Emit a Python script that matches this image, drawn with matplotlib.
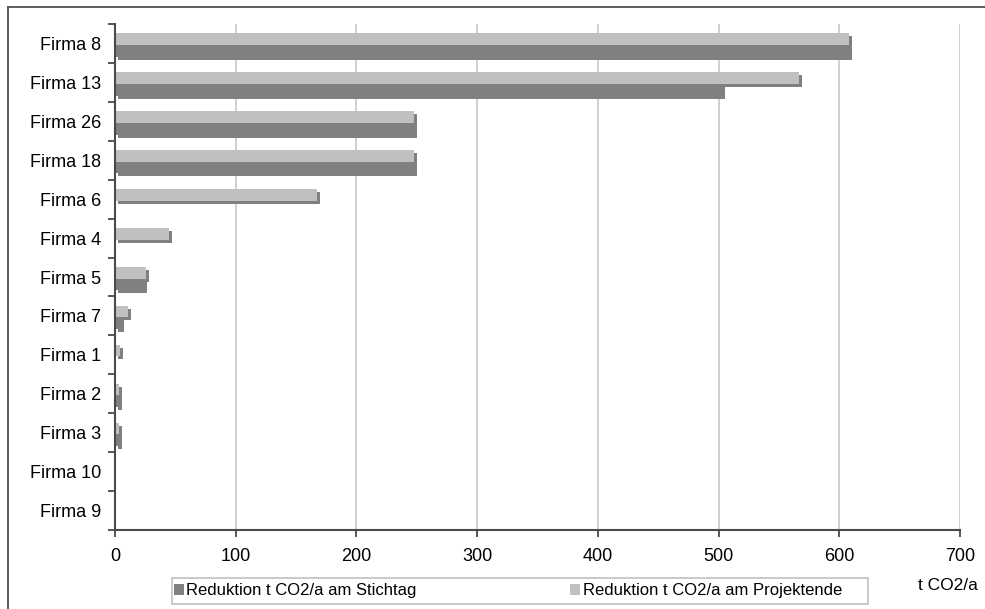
import matplotlib
matplotlib.use("Agg")
import matplotlib.pyplot as plt
import matplotlib.transforms as mtransforms
from matplotlib.patches import Rectangle, Patch
from matplotlib.lines import Line2D
import numpy as np

plt.rcParams['font.family'] = ['Liberation Sans', 'DejaVu Sans']

firmen = ['Firma 8', 'Firma 13', 'Firma 26', 'Firma 18', 'Firma 6', 'Firma 4',
          'Firma 5', 'Firma 7', 'Firma 1', 'Firma 2', 'Firma 3', 'Firma 10', 'Firma 9']
stichtag = [608, 503, 248, 248, 0, 0, 24, 5, 0, 3, 3, 0, 0]
projektende = [608, 567, 248, 248, 167, 45, 26, 11, 4, 3, 3, 0, 0]

label_stichtag = 'Reduktion t CO2/a am Stichtag'
label_projektende = 'Reduktion t CO2/a am Projektende'

c_dark = '#808080'
c_light = '#c0c0c0'
c_axis = '#4a4a4a'

fig = plt.figure(figsize=(9.85, 6.09), dpi=100)
ax = fig.add_axes([115/985, 1 - 530/609, 845/985, (530 - 24)/609])

y = np.arange(len(firmen)) + 0.04
h = 0.30

# schatten (3px nach rechts unten)
shadow = ax.transData + mtransforms.ScaledTranslation(0.03, -0.03, fig.dpi_scale_trans)
ax.barh(y - h/2, projektende, height=h, color=c_dark, transform=shadow, zorder=2)
ax.barh(y + h/2, stichtag, height=h, color=c_dark, transform=shadow, zorder=2)

ax.barh(y - h/2, projektende, height=h, color=c_light, zorder=3)
ax.barh(y + h/2, stichtag, height=h, color=c_dark, zorder=3)

ax.set_xlim(0, 700)
ax.set_ylim(len(firmen) - 0.5, -0.5)

ax.set_xticks(np.arange(0, 701, 100))
ax.xaxis.grid(True, color='#c8c8c8', linewidth=1.2, zorder=0)
ax.set_axisbelow(True)

# kategorie-ticks an den grenzen, beschriftung in der mitte
ax.set_yticks(np.arange(-0.5, len(firmen), 1.0))
ax.set_yticklabels([])
ax.set_yticks(np.arange(len(firmen)), minor=True)
ax.set_yticklabels(firmen, minor=True)
ax.tick_params(axis='y', which='major', direction='out', length=5, width=1.3, color=c_axis)
ax.tick_params(axis='y', which='minor', length=0, pad=10, labelsize=13)
ax.tick_params(axis='x', direction='out', length=5, width=1.3, color=c_axis, pad=8, labelsize=13)

for s in ['top', 'right']:
    ax.spines[s].set_visible(False)
for s in ['left', 'bottom']:
    ax.spines[s].set_color(c_axis)
    ax.spines[s].set_linewidth(1.5)
    ax.spines[s].set_zorder(5)

# legende mit eigenem rahmen
handles = [Patch(facecolor=c_dark, edgecolor='none', label=label_stichtag),
           Patch(facecolor=c_light, edgecolor='none', label=label_projektende)]
fig.legend(handles=handles, loc='center left', bbox_to_anchor=(174/985, 1 - 591/609),
           ncol=2, frameon=False, fontsize=12, handlelength=0.6, handleheight=0.6,
           handletextpad=0.15, columnspacing=9.2, borderpad=0, borderaxespad=0)
fig.patches.append(Rectangle((172/985, 1 - 604/609), 696/985, 26/609, transform=fig.transFigure,
                             facecolor='none', edgecolor='#c0c0c0', linewidth=1.2))

fig.text(978/985, 1 - 586/609, 't CO2/a', ha='right', va='center', fontsize=12.5)

# aussenrahmen (links und oben sichtbar)
fig.lines.append(Line2D([8/985, 8/985], [0, 1 - 7/609], transform=fig.transFigure,
                        color='#505050', linewidth=1.3))
fig.lines.append(Line2D([8/985, 1], [1 - 7/609, 1 - 7/609], transform=fig.transFigure,
                        color='#505050', linewidth=1.3))

fig.savefig('out.png', dpi=100)
